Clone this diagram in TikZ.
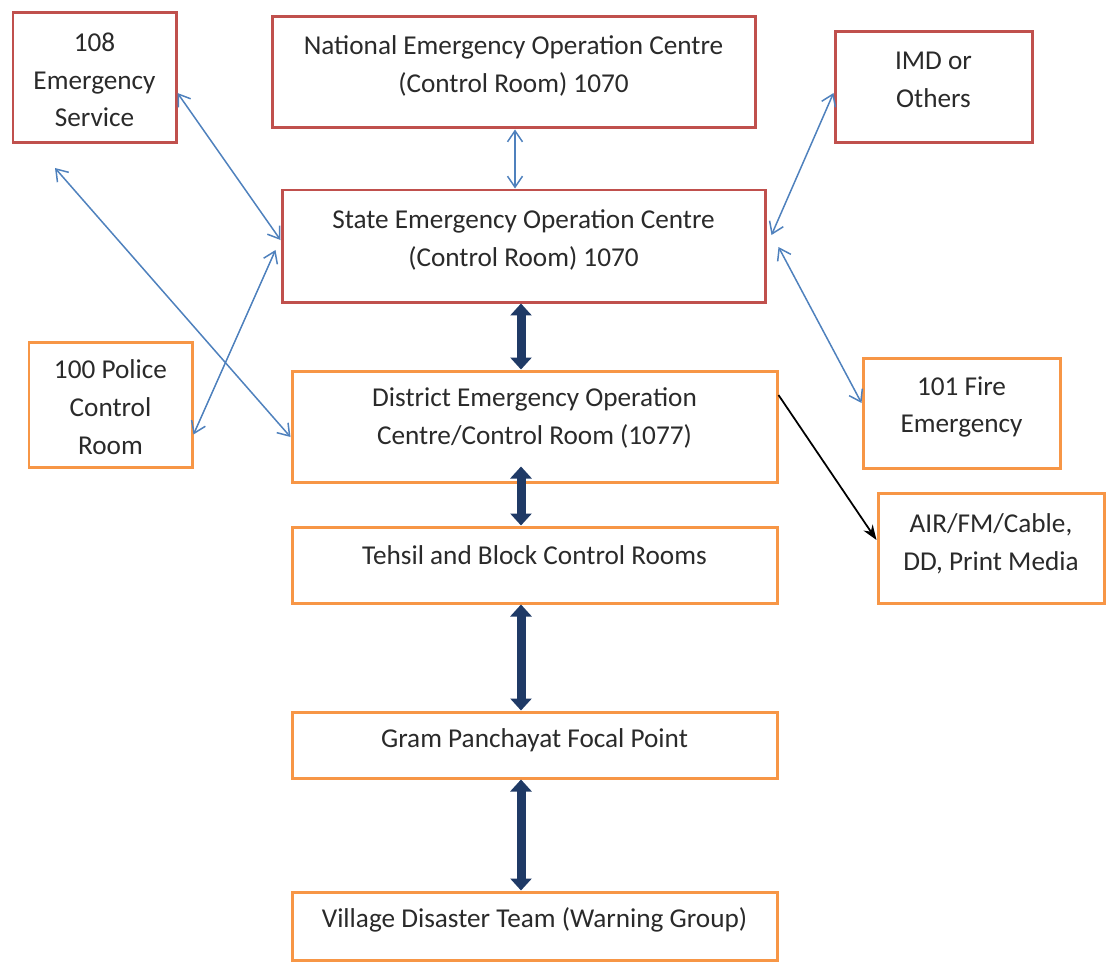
\documentclass[tikz,border=0pt]{standalone}
\usepackage{fontspec}
\setmainfont{Carlito}
\usetikzlibrary{arrows.meta,calc}
\definecolor{boxred}{HTML}{C0504D}
\definecolor{boxorange}{HTML}{F79646}
\definecolor{linkblue}{HTML}{4F81BD}
\definecolor{trunk}{HTML}{1F3A66}
\definecolor{ink}{HTML}{2A2A2A}
\def\unitpx{0.02cm}
\tikzset{
  panel/.style={draw, line width=0.06cm, inner sep=0pt, fill=white},
  redpanel/.style={panel, draw=boxred},
  orangepanel/.style={panel, draw=boxorange},
  label text/.style={align=center, text=ink, inner sep=0pt,
    font=\fontsize{15.5}{21.5}\selectfont},
  thinlink/.style={draw=linkblue, line width=0.03cm,
    {Straight Barb[length=0.22cm,width=0.3cm]}-{Straight Barb[length=0.22cm,width=0.3cm]}},
  trunklink/.style={draw=trunk, line width=0.18cm,
    {Triangle[length=0.24cm,width=0.42cm]}-{Triangle[length=0.24cm,width=0.42cm]}},
  medialink/.style={draw=black, line width=0.035cm, -{Stealth[length=0.3cm,width=0.22cm]}}
}
\begin{document}
\begin{tikzpicture}[x=\unitpx, y=-\unitpx]
\useasboundingbox (0,0) rectangle (1106,963);

% boxes
\node[redpanel, minimum width=163*\unitpx, minimum height=130*\unitpx] (b108) at (94.5,78) {};
\node[redpanel, minimum width=483*\unitpx, minimum height=111*\unitpx] (nat) at (513.5,72.5) {};
\node[redpanel, minimum width=197*\unitpx, minimum height=111*\unitpx] (imd) at (933.5,87.5) {};
\node[redpanel, minimum width=483*\unitpx, minimum height=112*\unitpx] (state) at (523.5,246) {};
\node[orangepanel, minimum width=163*\unitpx, minimum height=125*\unitpx] (police) at (110.5,404.5) {};
\node[orangepanel, minimum width=485*\unitpx, minimum height=111*\unitpx] (district) at (534.5,426.5) {};
\node[orangepanel, minimum width=197*\unitpx, minimum height=110*\unitpx] (fire) at (961.5,413) {};
\node[orangepanel, minimum width=226*\unitpx, minimum height=110*\unitpx] (air) at (991,548) {};
\node[orangepanel, minimum width=485*\unitpx, minimum height=76*\unitpx] (tehsil) at (534.5,565) {};
\node[orangepanel, minimum width=485*\unitpx, minimum height=66*\unitpx] (gram) at (534.5,745) {};
\node[orangepanel, minimum width=485*\unitpx, minimum height=68*\unitpx] (village) at (534.5,926) {};

% texts
\node[label text] (t108) at (94.5,80) {108\\Emergency\\Service};
\node[label text] (tnat) at (513.5,66) {National Emergency Operation Centre\\(Control Room) 1070};
\node[label text] (timd) at (933.5,80) {IMD or\\Others};
\node[label text] (tstate) at (523.5,240) {State Emergency Operation Centre\\(Control Room) 1070};
\node[label text] (tpolice) at (110.5,407) {100 Police\\Control\\Room};
\node[label text] (tdistrict) at (534.5,418) {District Emergency Operation\\Centre/Control Room (1077)};
\node[label text] (tfire) at (961.5,407) {101 Fire\\Emergency};
\node[label text] (tair) at (991,544) {AIR/FM/Cable,\\DD, Print Media};
\node[label text] (ttehsil) at (534.5,555) {Tehsil and Block Control Rooms};
\node[label text] (tgram) at (534.5,740) {Gram Panchayat Focal Point};
\node[label text] (tvillage) at (534.5,920) {Village Disaster Team (Warning Group)};

\coordinate (c108) at (55,168);

% thin two-way links
\draw[thinlink] ([xshift=1.5*\unitpx]nat.south) -- ([xshift=1.5*\unitpx]nat.south |- state.north);
\draw[thinlink] ([yshift=-0.3cm]b108.east) -- ([yshift=0.12cm]state.west);
\draw[thinlink] (c108) -- ([yshift=-0.21cm]district.west);
\draw[thinlink] ([xshift=-0.1cm,yshift=-0.08cm]state.west) -- ([yshift=-0.6cm]police.east);
\draw[thinlink] ([yshift=-0.11cm]imd.west) -- ([xshift=0.1cm,yshift=0.22cm]state.east);
\draw[thinlink] ([xshift=0.24cm,yshift=-0.02cm]state.east) -- ([yshift=0.2cm]fire.west);

% main vertical chain
\draw[trunklink] ([xshift=-2.5*\unitpx]state.south) -- ([xshift=-2.5*\unitpx]state.south |- district.north);
\draw[trunklink] ([xshift=-2.5*\unitpx,yshift=0.34cm]district.south -| state.south) -- ([xshift=-2.5*\unitpx]tehsil.north -| state.south);
\draw[trunklink] ([xshift=-2.5*\unitpx]tehsil.south -| state.south) -- ([xshift=-2.5*\unitpx]gram.north -| state.south);
\draw[trunklink] ([xshift=-2.5*\unitpx]gram.south -| state.south) -- ([xshift=-2.5*\unitpx]village.north -| state.south);

% media link
\draw[medialink] ([yshift=0.63cm]district.east) -- ([yshift=0.16cm]air.west);
\end{tikzpicture}
\end{document}
